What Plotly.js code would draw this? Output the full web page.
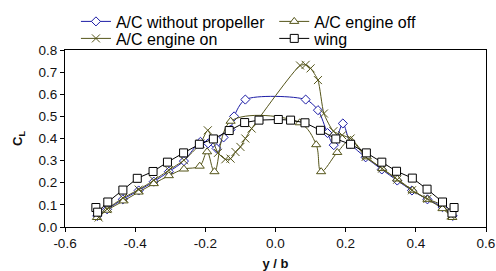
<!DOCTYPE html>
<html>
<head>
<meta charset="utf-8">
<script src="https://cdn.plot.ly/plotly-3.0.1.min.js"></script>
<style>html,body{margin:0;padding:0;background:#fff;}#chart{width:496px;height:271px;}</style>
</head>
<body>
<div id="chart"></div>
<script>
// A/C without propeller
const noPropX = [-0.508, -0.48, -0.435, -0.39, -0.347, -0.304, -0.261, -0.214, -0.192, -0.168, -0.148, -0.128, -0.118, -0.086, 0.086, 0.121, 0.148, 0.166, 0.192, 0.214, 0.257, 0.303, 0.347, 0.389, 0.433, 0.476, 0.505];
const noPropY = [0.05, 0.08, 0.125, 0.165, 0.205, 0.25, 0.298, 0.385, 0.378, 0.355, 0.405, 0.44, 0.50, 0.576, 0.576, 0.528, 0.425, 0.37, 0.468, 0.377, 0.315, 0.26, 0.21, 0.165, 0.125, 0.09, 0.05];
// A/C engine off
const offX = [-0.509, -0.48, -0.433, -0.39, -0.347, -0.304, -0.261, -0.216, -0.195, -0.174, -0.128, 0.069, 0.116, 0.13, 0.176, 0.214, 0.26, 0.304, 0.347, 0.391, 0.433, 0.476, 0.504];
const offY = [0.043, 0.076, 0.118, 0.158, 0.196, 0.232, 0.262, 0.275, 0.34, 0.25, 0.478, 0.471, 0.372, 0.25, 0.337, 0.392, 0.317, 0.264, 0.217, 0.166, 0.125, 0.083, 0.043];
// A/C engine on
const onX = [-0.504, -0.48, -0.435, -0.39, -0.347, -0.304, -0.261, -0.214, -0.193, -0.164, -0.143, -0.128, -0.114, -0.1, -0.086, -0.068, 0.07, 0.086, 0.1, 0.121, 0.138, 0.165, 0.19, 0.214, 0.257, 0.304, 0.347, 0.389, 0.433, 0.476, 0.499];
const onY = [0.043, 0.081, 0.131, 0.169, 0.211, 0.257, 0.302, 0.377, 0.437, 0.335, 0.306, 0.309, 0.339, 0.362, 0.40, 0.445, 0.73, 0.733, 0.717, 0.664, 0.513, 0.433, 0.415, 0.40, 0.317, 0.264, 0.214, 0.166, 0.127, 0.098, 0.053];
// wing
const wingX = [-0.512, -0.507, -0.478, -0.435, -0.394, -0.349, -0.308, -0.262, -0.217, -0.177, -0.132, -0.088, -0.047, 0.008, 0.043, 0.084, 0.128, 0.172, 0.214, 0.259, 0.303, 0.345, 0.39, 0.432, 0.476, 0.503, 0.509];
const wingY = [0.088, 0.067, 0.113, 0.167, 0.22, 0.251, 0.293, 0.335, 0.374, 0.398, 0.436, 0.472, 0.483, 0.486, 0.483, 0.471, 0.437, 0.398, 0.374, 0.335, 0.293, 0.252, 0.221, 0.171, 0.113, 0.063, 0.088];

const seriesNames = ['A/C without propeller', 'A/C engine off', 'A/C engine on', 'wing'];
const xTicks = [-0.6, -0.4, -0.2, 0.0, 0.2, 0.4, 0.6];
const yTicks = [0.0, 0.1, 0.2, 0.3, 0.4, 0.5, 0.6, 0.7, 0.8];

const blue = '#1c1ca6';
const olive = '#55551a';

const traces = [
  {x: noPropX, y: noPropY, name: seriesNames[0], mode: 'lines+markers', legend: 'legend',
   line: {color: blue, width: 1, shape: 'spline', smoothing: 0.8},
   marker: {symbol: 'diamond', size: 7, color: '#fff', line: {color: blue, width: 1}}},
  {x: offX, y: offY, name: seriesNames[1], mode: 'lines+markers', legend: 'legend2',
   line: {color: olive, width: 1, shape: 'spline', smoothing: 1.0},
   marker: {symbol: 'triangle-up', size: 8, color: '#fff', line: {color: olive, width: 1}}},
  {x: onX, y: onY, name: seriesNames[2], mode: 'lines+markers', legend: 'legend3',
   line: {color: olive, width: 1, shape: 'spline', smoothing: 0.6},
   marker: {symbol: 'x-thin', size: 8, color: olive, line: {color: olive, width: 1}}},
  {x: wingX, y: wingY, name: seriesNames[3], mode: 'lines+markers', legend: 'legend4',
   line: {color: '#000', width: 1},
   marker: {symbol: 'square', size: 8, color: '#fff', line: {color: '#000', width: 1}}}
];

const legendBase = {orientation: 'v', xref: 'paper', xanchor: 'left', yref: 'paper', yanchor: 'middle',
  font: {size: 16, color: '#000'}, bgcolor: 'rgba(0,0,0,0)', borderwidth: 0, tracegroupgap: 0};
const row1 = 1.161, row2 = 1.065, col1 = 0.026, col2 = 0.497;

const layout = {
  width: 496, height: 271,
  margin: {l: 65, r: 10, t: 50, b: 44, autoexpand: false},
  paper_bgcolor: '#fff', plot_bgcolor: '#fff',
  font: {family: 'Liberation Sans, Arial, sans-serif', size: 13.5, color: '#111'},
  showlegend: true,
  legend: Object.assign({}, legendBase, {x: col1, y: row1}),
  legend2: Object.assign({}, legendBase, {x: col2, y: row1}),
  legend3: Object.assign({}, legendBase, {x: col1, y: row2}),
  legend4: Object.assign({}, legendBase, {x: col2, y: row2}),
  xaxis: {range: [-0.6, 0.6], tickvals: xTicks, ticktext: xTicks.map(v => v.toFixed(1)),
          ticks: 'outside', ticklen: 4, tickcolor: '#000', showgrid: false, zeroline: false,
          showline: true, linecolor: '#000', linewidth: 1, mirror: true,
          title: {text: '<b>y / b</b>', font: {size: 13}, standoff: 8}},
  yaxis: {range: [0, 0.8], tickvals: yTicks, ticktext: yTicks.map(v => v.toFixed(1)),
          ticks: 'outside', ticklen: 4, tickcolor: '#000', showgrid: false, zeroline: false,
          showline: true, linecolor: '#000', linewidth: 1, mirror: true,
          title: {text: '<b>C<sub>L</sub></b>', font: {size: 13}, standoff: 12}}
};

Plotly.newPlot('chart', traces, layout, {displayModeBar: false, staticPlot: true});
</script>
</body>
</html>
